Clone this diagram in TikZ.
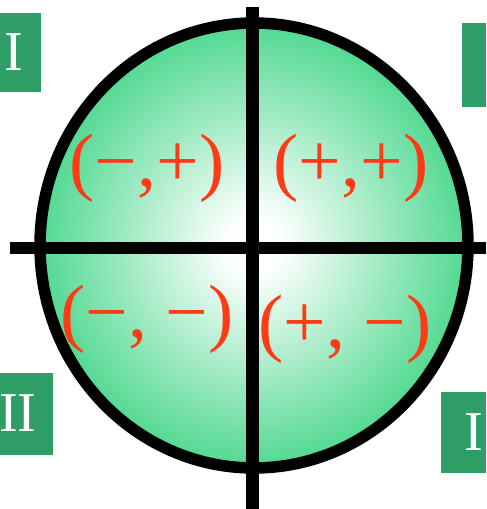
\documentclass[tikz,border=0pt]{standalone}
\usepackage{fontspec}
\setmainfont{Liberation Serif}
\definecolor{ballgreen}{RGB}{42,208,120}
\definecolor{boxgreen}{RGB}{46,158,102}
\definecolor{signred}{RGB}{255,58,20}
\pgfdeclareradialshading{ballshade}{\pgfpoint{0bp}{0bp}}{color(0bp)=(white); color(3bp)=(white); color(15bp)=(ballgreen!45!white); color(30bp)=(ballgreen); color(100bp)=(ballgreen)}
\tikzset{
	sign/.style={text=signred, inner sep=0pt, font=\fontsize{43}{43}\selectfont},
	numeral/.style={text=white, inner sep=0pt, font=\fontsize{32}{32}\selectfont},
	axis/.style={line width=0.26cm},
}
\begin{document}
\begin{tikzpicture}[x=0.02cm, y=-0.02cm]
	\useasboundingbox (0,0) rectangle (486,509);
	\path
	%	trục và tâm
	(254,245.5) coordinate (O)
	(252,7) coordinate (T)
	(252,509) coordinate (B)
	(10,248) coordinate (L)
	(486,248) coordinate (R)
	;
	% các ô góc
	\fill[boxgreen] (0,13) rectangle (41,92);
	\fill[boxgreen] (462,23) rectangle (486,107);
	\fill[boxgreen] (0,373) rectangle (53,455);
	\fill[boxgreen] (441,392) rectangle (486,473);
	\node[numeral] (nTL) at (14,52) {I};
	\node[numeral] (nBL) at (18,413) {II};
	\node[numeral] (nBR) at (474,432) {I};
	% hình tròn
	\draw[line width=0.23cm, shading=ballshade] (O) ellipse (214 and 222.5);
	\draw[axis]
	(T)--(B)
	(L)--(R)
	;
	% dấu
	\node[sign] (q2) at (147,168) {(−,+)};
	\node[sign] (q1) at (351,168) {(+,+)};
	\node[sign] (q3) at (147,319) {(−, −)};
	\node[sign] (q4) at (345,329) {(+, −)};
\end{tikzpicture}
\end{document}
